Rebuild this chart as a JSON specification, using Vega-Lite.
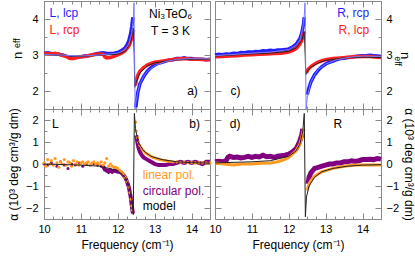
{
"$schema":"https://vega.github.io/schema/vega-lite/v6.json",
"padding":{"left":6,"right":2,"top":0,"bottom":3},
"config":{"font":"Liberation Sans","view":{"stroke":"#888","strokeWidth":1},
"axis":{"domain":false,"grid":false,"tickColor":"#888","labelColor":"#000","labelFontSize":11,"labelFont":"Liberation Sans","titleFont":"Liberation Sans","titleFontWeight":"normal","titleFontSize":11,"titleColor":"#000","minExtent":0,"labelOverlap":false,"labelBound":false,"labelFlush":false},
"text":{"font":"Liberation Sans","fontSize":12,"baseline":"middle"}},
"datasets":{
"tl":[
{"f":10,"v":3.05,"s":"lcp1"},{"f":10.1,"v":3.06,"s":"lcp1"},{"f":10.2,"v":3.04,"s":"lcp1"},{"f":10.3,"v":3.03,"s":"lcp1"},{"f":10.4,"v":3.02,"s":"lcp1"},{"f":10.5,"v":3.0,"s":"lcp1"},{"f":10.6,"v":2.97,"s":"lcp1"},{"f":10.7,"v":2.93,"s":"lcp1"},{"f":10.8,"v":2.92,"s":"lcp1"},{"f":10.9,"v":2.94,"s":"lcp1"},{"f":11,"v":2.95,"s":"lcp1"},{"f":11.1,"v":2.97,"s":"lcp1"},{"f":11.2,"v":2.98,"s":"lcp1"},{"f":11.3,"v":3.0,"s":"lcp1"},{"f":11.4,"v":3.03,"s":"lcp1"},{"f":11.5,"v":3.05,"s":"lcp1"},{"f":11.6,"v":3.06,"s":"lcp1"},{"f":11.7,"v":3.04,"s":"lcp1"},{"f":11.8,"v":3.04,"s":"lcp1"},{"f":11.9,"v":3.05,"s":"lcp1"},{"f":12,"v":3.07,"s":"lcp1"},{"f":12.1,"v":3.12,"s":"lcp1"},{"f":12.2,"v":3.2,"s":"lcp1"},{"f":12.25,"v":3.28,"s":"lcp1"},{"f":12.3,"v":3.4,"s":"lcp1"},{"f":12.35,"v":3.6,"s":"lcp1"},{"f":12.38,"v":3.8,"s":"lcp1"},{"f":12.41,"v":4.05,"s":"lcp1"},
{"f":12.49,"v":1.55,"s":"lcp2"},{"f":12.52,"v":1.8,"s":"lcp2"},{"f":12.55,"v":2.0,"s":"lcp2"},{"f":12.6,"v":2.2,"s":"lcp2"},{"f":12.7,"v":2.4,"s":"lcp2"},{"f":12.8,"v":2.55,"s":"lcp2"},{"f":12.9,"v":2.65,"s":"lcp2"},{"f":13,"v":2.72,"s":"lcp2"},{"f":13.1,"v":2.77,"s":"lcp2"},{"f":13.2,"v":2.8,"s":"lcp2"},{"f":13.3,"v":2.83,"s":"lcp2"},{"f":13.4,"v":2.86,"s":"lcp2"},{"f":13.5,"v":2.87,"s":"lcp2"},{"f":13.6,"v":2.9,"s":"lcp2"},{"f":13.7,"v":2.9,"s":"lcp2"},{"f":13.8,"v":2.92,"s":"lcp2"},{"f":13.9,"v":2.9,"s":"lcp2"},{"f":14,"v":2.9,"s":"lcp2"},{"f":14.1,"v":2.88,"s":"lcp2"},{"f":14.2,"v":2.88,"s":"lcp2"},{"f":14.3,"v":2.88,"s":"lcp2"},{"f":14.4,"v":2.87,"s":"lcp2"},{"f":14.5,"v":2.88,"s":"lcp2"},
{"f":10,"v":3.05,"s":"rcp1"},{"f":10.1,"v":3.04,"s":"rcp1"},{"f":10.2,"v":3.03,"s":"rcp1"},{"f":10.3,"v":3.05,"s":"rcp1"},{"f":10.4,"v":3.02,"s":"rcp1"},{"f":10.5,"v":2.99,"s":"rcp1"},{"f":10.6,"v":2.96,"s":"rcp1"},{"f":10.7,"v":2.9,"s":"rcp1"},{"f":10.8,"v":2.9,"s":"rcp1"},{"f":10.9,"v":2.93,"s":"rcp1"},{"f":11,"v":2.95,"s":"rcp1"},{"f":11.1,"v":2.96,"s":"rcp1"},{"f":11.2,"v":2.98,"s":"rcp1"},{"f":11.3,"v":3.0,"s":"rcp1"},{"f":11.4,"v":3.02,"s":"rcp1"},{"f":11.5,"v":3.03,"s":"rcp1"},{"f":11.6,"v":3.02,"s":"rcp1"},{"f":11.65,"v":2.95,"s":"rcp1"},{"f":11.7,"v":2.92,"s":"rcp1"},{"f":11.8,"v":2.93,"s":"rcp1"},{"f":11.9,"v":2.96,"s":"rcp1"},{"f":12,"v":3.0,"s":"rcp1"},{"f":12.1,"v":3.05,"s":"rcp1"},{"f":12.2,"v":3.12,"s":"rcp1"},{"f":12.3,"v":3.25,"s":"rcp1"},{"f":12.35,"v":3.38,"s":"rcp1"},{"f":12.4,"v":3.55,"s":"rcp1"},{"f":12.43,"v":3.7,"s":"rcp1"},
{"f":12.48,"v":2.15,"s":"rcp2"},{"f":12.5,"v":2.3,"s":"rcp2"},{"f":12.55,"v":2.45,"s":"rcp2"},{"f":12.6,"v":2.55,"s":"rcp2"},{"f":12.7,"v":2.65,"s":"rcp2"},{"f":12.8,"v":2.72,"s":"rcp2"},{"f":12.9,"v":2.77,"s":"rcp2"},{"f":13,"v":2.8,"s":"rcp2"},{"f":13.2,"v":2.83,"s":"rcp2"},{"f":13.4,"v":2.86,"s":"rcp2"},{"f":13.6,"v":2.89,"s":"rcp2"},{"f":13.8,"v":2.9,"s":"rcp2"},{"f":14,"v":2.88,"s":"rcp2"},{"f":14.2,"v":2.88,"s":"rcp2"},{"f":14.4,"v":2.87,"s":"rcp2"},{"f":14.5,"v":2.87,"s":"rcp2"},
{"f":10,"v":3.02,"s":"mb"},{"f":11,"v":2.97,"s":"mb"},{"f":11.5,"v":3.0,"s":"mb"},{"f":12,"v":3.05,"s":"mb"},{"f":12.2,"v":3.15,"s":"mb"},{"f":12.3,"v":3.3,"s":"mb"},{"f":12.38,"v":3.6,"s":"mb"},{"f":12.42,"v":4.0,"s":"mb"},{"f":12.44,"v":4.45,"s":"mb"},{"f":12.46,"v":2.5,"s":"mb"},{"f":12.47,"v":1.5,"s":"mb"},{"f":12.5,"v":1.75,"s":"mb"},{"f":12.55,"v":2.0,"s":"mb"},{"f":12.6,"v":2.2,"s":"mb"},{"f":12.7,"v":2.4,"s":"mb"},{"f":12.8,"v":2.55,"s":"mb"},{"f":13,"v":2.7,"s":"mb"},{"f":13.3,"v":2.82,"s":"mb"},{"f":13.6,"v":2.88,"s":"mb"},{"f":14,"v":2.9,"s":"mb"},{"f":14.5,"v":2.89,"s":"mb"},
{"f":10,"v":3.02,"s":"mk"},{"f":11,"v":2.96,"s":"mk"},{"f":11.5,"v":3.0,"s":"mk"},{"f":12,"v":3.02,"s":"mk"},{"f":12.2,"v":3.1,"s":"mk"},{"f":12.35,"v":3.35,"s":"mk"},{"f":12.42,"v":3.75,"s":"mk"},{"f":12.445,"v":3.0,"s":"mk"},{"f":12.46,"v":2.1,"s":"mk"},{"f":12.5,"v":2.25,"s":"mk"},{"f":12.6,"v":2.5,"s":"mk"},{"f":12.8,"v":2.7,"s":"mk"},{"f":13,"v":2.78,"s":"mk"},{"f":13.5,"v":2.86,"s":"mk"},{"f":14,"v":2.88,"s":"mk"},{"f":14.5,"v":2.88,"s":"mk"}
],
"tr":[
{"f":10,"v":3.0,"s":"rcp1"},{"f":10.1,"v":3.02,"s":"rcp1"},{"f":10.2,"v":3.01,"s":"rcp1"},{"f":10.3,"v":3.03,"s":"rcp1"},{"f":10.4,"v":3.02,"s":"rcp1"},{"f":10.5,"v":3.05,"s":"rcp1"},{"f":10.6,"v":3.04,"s":"rcp1"},{"f":10.7,"v":3.07,"s":"rcp1"},{"f":10.8,"v":3.06,"s":"rcp1"},{"f":10.9,"v":3.08,"s":"rcp1"},{"f":11,"v":3.08,"s":"rcp1"},{"f":11.1,"v":3.1,"s":"rcp1"},{"f":11.2,"v":3.09,"s":"rcp1"},{"f":11.3,"v":3.12,"s":"rcp1"},{"f":11.4,"v":3.11,"s":"rcp1"},{"f":11.5,"v":3.13,"s":"rcp1"},{"f":11.6,"v":3.12,"s":"rcp1"},{"f":11.7,"v":3.14,"s":"rcp1"},{"f":11.8,"v":3.14,"s":"rcp1"},{"f":11.9,"v":3.15,"s":"rcp1"},{"f":12,"v":3.17,"s":"rcp1"},{"f":12.1,"v":3.22,"s":"rcp1"},{"f":12.2,"v":3.3,"s":"rcp1"},{"f":12.3,"v":3.45,"s":"rcp1"},{"f":12.35,"v":3.6,"s":"rcp1"},{"f":12.4,"v":3.85,"s":"rcp1"},{"f":12.42,"v":4.05,"s":"rcp1"},
{"f":12.5,"v":1.9,"s":"rcp2"},{"f":12.55,"v":2.1,"s":"rcp2"},{"f":12.6,"v":2.25,"s":"rcp2"},{"f":12.7,"v":2.45,"s":"rcp2"},{"f":12.8,"v":2.58,"s":"rcp2"},{"f":12.9,"v":2.68,"s":"rcp2"},{"f":13,"v":2.75,"s":"rcp2"},{"f":13.1,"v":2.8,"s":"rcp2"},{"f":13.2,"v":2.83,"s":"rcp2"},{"f":13.3,"v":2.87,"s":"rcp2"},{"f":13.4,"v":2.9,"s":"rcp2"},{"f":13.5,"v":2.91,"s":"rcp2"},{"f":13.6,"v":2.93,"s":"rcp2"},{"f":13.7,"v":2.94,"s":"rcp2"},{"f":13.8,"v":2.96,"s":"rcp2"},{"f":13.9,"v":2.97,"s":"rcp2"},{"f":14,"v":2.98,"s":"rcp2"},{"f":14.1,"v":2.98,"s":"rcp2"},{"f":14.2,"v":2.99,"s":"rcp2"},{"f":14.3,"v":2.98,"s":"rcp2"},{"f":14.4,"v":2.97,"s":"rcp2"},{"f":14.5,"v":2.96,"s":"rcp2"},
{"f":10,"v":2.95,"s":"lcp1"},{"f":10.2,"v":2.96,"s":"lcp1"},{"f":10.4,"v":2.97,"s":"lcp1"},{"f":10.6,"v":2.98,"s":"lcp1"},{"f":10.8,"v":3.0,"s":"lcp1"},{"f":11,"v":3.01,"s":"lcp1"},{"f":11.2,"v":3.02,"s":"lcp1"},{"f":11.4,"v":3.03,"s":"lcp1"},{"f":11.6,"v":3.04,"s":"lcp1"},{"f":11.8,"v":3.05,"s":"lcp1"},{"f":12,"v":3.08,"s":"lcp1"},{"f":12.1,"v":3.12,"s":"lcp1"},{"f":12.2,"v":3.18,"s":"lcp1"},{"f":12.3,"v":3.3,"s":"lcp1"},{"f":12.35,"v":3.4,"s":"lcp1"},{"f":12.4,"v":3.55,"s":"lcp1"},{"f":12.43,"v":3.65,"s":"lcp1"},
{"f":12.48,"v":2.5,"s":"lcp2"},{"f":12.52,"v":2.6,"s":"lcp2"},{"f":12.6,"v":2.68,"s":"lcp2"},{"f":12.7,"v":2.75,"s":"lcp2"},{"f":12.8,"v":2.8,"s":"lcp2"},{"f":12.9,"v":2.84,"s":"lcp2"},{"f":13,"v":2.87,"s":"lcp2"},{"f":13.2,"v":2.9,"s":"lcp2"},{"f":13.4,"v":2.92,"s":"lcp2"},{"f":13.6,"v":2.94,"s":"lcp2"},{"f":13.8,"v":2.95,"s":"lcp2"},{"f":14,"v":2.96,"s":"lcp2"},{"f":14.2,"v":2.96,"s":"lcp2"},{"f":14.4,"v":2.94,"s":"lcp2"},{"f":14.5,"v":2.93,"s":"lcp2"},
{"f":10,"v":2.98,"s":"mb"},{"f":11,"v":3.05,"s":"mb"},{"f":11.5,"v":3.08,"s":"mb"},{"f":12,"v":3.15,"s":"mb"},{"f":12.2,"v":3.27,"s":"mb"},{"f":12.3,"v":3.42,"s":"mb"},{"f":12.38,"v":3.75,"s":"mb"},{"f":12.42,"v":4.1,"s":"mb"},{"f":12.44,"v":4.45,"s":"mb"},{"f":12.46,"v":2.5,"s":"mb"},{"f":12.47,"v":1.5,"s":"mb"},{"f":12.5,"v":1.8,"s":"mb"},{"f":12.55,"v":2.05,"s":"mb"},{"f":12.6,"v":2.25,"s":"mb"},{"f":12.7,"v":2.45,"s":"mb"},{"f":12.8,"v":2.6,"s":"mb"},{"f":13,"v":2.75,"s":"mb"},{"f":13.3,"v":2.87,"s":"mb"},{"f":13.6,"v":2.93,"s":"mb"},{"f":14,"v":2.97,"s":"mb"},{"f":14.5,"v":2.96,"s":"mb"},
{"f":10,"v":2.97,"s":"mk"},{"f":11,"v":3.03,"s":"mk"},{"f":11.5,"v":3.05,"s":"mk"},{"f":12,"v":3.1,"s":"mk"},{"f":12.2,"v":3.2,"s":"mk"},{"f":12.35,"v":3.4,"s":"mk"},{"f":12.42,"v":3.65,"s":"mk"},{"f":12.445,"v":3.0,"s":"mk"},{"f":12.46,"v":2.45,"s":"mk"},{"f":12.5,"v":2.55,"s":"mk"},{"f":12.6,"v":2.66,"s":"mk"},{"f":12.8,"v":2.78,"s":"mk"},{"f":13,"v":2.85,"s":"mk"},{"f":13.5,"v":2.92,"s":"mk"},{"f":14,"v":2.94,"s":"mk"},{"f":14.5,"v":2.93,"s":"mk"}
],
"bl":[
{"f":10.0,"v":0.0,"s":"ps"},{"f":10.1,"v":-0.05,"s":"ps"},{"f":10.2,"v":0.05,"s":"ps"},{"f":10.35,"v":-0.1,"s":"ps"},{"f":10.45,"v":0.1,"s":"ps"},{"f":10.55,"v":-0.05,"s":"ps"},{"f":10.65,"v":-0.2,"s":"ps"},{"f":10.75,"v":0.0,"s":"ps"},{"f":10.85,"v":-0.05,"s":"ps"},{"f":10.95,"v":0.05,"s":"ps"},{"f":11.05,"v":-0.1,"s":"ps"},{"f":11.15,"v":0.0,"s":"ps"},{"f":11.25,"v":-0.05,"s":"ps"},{"f":11.35,"v":0.0,"s":"ps"},{"f":11.45,"v":-0.05,"s":"ps"},{"f":11.55,"v":-0.1,"s":"ps"},
{"f":11.6,"v":-0.1,"s":"pl1"},{"f":11.65,"v":-0.25,"s":"pl1"},{"f":11.7,"v":-0.3,"s":"pl1"},{"f":11.75,"v":-0.35,"s":"pl1"},{"f":11.8,"v":-0.28,"s":"pl1"},{"f":11.85,"v":-0.35,"s":"pl1"},{"f":11.9,"v":-0.3,"s":"pl1"},{"f":11.95,"v":-0.32,"s":"pl1"},{"f":12.0,"v":-0.35,"s":"pl1"},{"f":12.05,"v":-0.35,"s":"pl1"},{"f":12.1,"v":-0.4,"s":"pl1"},{"f":12.15,"v":-0.5,"s":"pl1"},{"f":12.2,"v":-0.6,"s":"pl1"},{"f":12.25,"v":-0.8,"s":"pl1"},{"f":12.3,"v":-1.05,"s":"pl1"},{"f":12.35,"v":-1.5,"s":"pl1"},{"f":12.38,"v":-1.9,"s":"pl1"},{"f":12.41,"v":-2.25,"s":"pl1"},
{"f":12.5,"v":1.3,"s":"pl2"},{"f":12.53,"v":1.0,"s":"pl2"},{"f":12.56,"v":0.75,"s":"pl2"},{"f":12.6,"v":0.55,"s":"pl2"},{"f":12.65,"v":0.4,"s":"pl2"},{"f":12.7,"v":0.3,"s":"pl2"},{"f":12.8,"v":0.2,"s":"pl2"},{"f":12.9,"v":0.1,"s":"pl2"},{"f":13.0,"v":0.0,"s":"pl2"},{"f":13.1,"v":-0.05,"s":"pl2"},{"f":13.2,"v":-0.05,"s":"pl2"},{"f":13.3,"v":-0.05,"s":"pl2"},{"f":13.4,"v":0.0,"s":"pl2"},{"f":13.5,"v":0.0,"s":"pl2"},{"f":13.6,"v":0.05,"s":"pl2"},{"f":13.7,"v":0.1,"s":"pl2"},{"f":13.8,"v":0.05,"s":"pl2"},{"f":13.9,"v":0.1,"s":"pl2"},{"f":14.0,"v":0.05,"s":"pl2"},{"f":14.1,"v":0.1,"s":"pl2"},{"f":14.2,"v":0.05,"s":"pl2"},{"f":14.3,"v":0.0,"s":"pl2"},{"f":14.4,"v":0.1,"s":"pl2"},{"f":14.5,"v":0.1,"s":"pl2"},
{"f":10.0,"v":0.05,"s":"o"},{"f":10.05,"v":-0.1,"s":"o"},{"f":10.1,"v":0.2,"s":"o"},{"f":10.15,"v":0.0,"s":"o"},{"f":10.2,"v":0.15,"s":"o"},{"f":10.25,"v":-0.05,"s":"o"},{"f":10.3,"v":0.25,"s":"o"},{"f":10.35,"v":0.05,"s":"o"},{"f":10.4,"v":-0.15,"s":"o"},{"f":10.45,"v":0.1,"s":"o"},{"f":10.5,"v":0.0,"s":"o"},{"f":10.55,"v":0.2,"s":"o"},{"f":10.6,"v":-0.05,"s":"o"},{"f":10.65,"v":0.1,"s":"o"},{"f":10.7,"v":0.05,"s":"o"},{"f":10.75,"v":-0.1,"s":"o"},{"f":10.8,"v":0.15,"s":"o"},{"f":10.85,"v":0.0,"s":"o"},{"f":10.9,"v":0.1,"s":"o"},{"f":10.95,"v":-0.05,"s":"o"},{"f":11.0,"v":0.05,"s":"o"},{"f":11.05,"v":0.1,"s":"o"},{"f":11.1,"v":0.0,"s":"o"},{"f":11.15,"v":0.05,"s":"o"},{"f":11.2,"v":0.1,"s":"o"},{"f":11.25,"v":-0.05,"s":"o"},{"f":11.3,"v":0.05,"s":"o"},{"f":11.35,"v":0.1,"s":"o"},{"f":11.4,"v":0.0,"s":"o"},{"f":11.45,"v":0.05,"s":"o"},{"f":11.5,"v":0.0,"s":"o"},{"f":11.55,"v":0.1,"s":"o"},{"f":11.6,"v":-0.05,"s":"o"},{"f":11.65,"v":0.05,"s":"o"},{"f":11.7,"v":0.25,"s":"o"},{"f":11.75,"v":-0.1,"s":"o"},{"f":11.8,"v":0.0,"s":"o"},{"f":11.85,"v":-0.1,"s":"o"},{"f":11.9,"v":-0.15,"s":"o"},{"f":11.95,"v":-0.15,"s":"o"},{"f":12.0,"v":-0.2,"s":"o"},{"f":12.05,"v":-0.3,"s":"o"},{"f":12.1,"v":-0.35,"s":"o"},{"f":12.15,"v":-0.45,"s":"o"},{"f":12.2,"v":-0.6,"s":"o"},{"f":12.25,"v":-0.8,"s":"o"},{"f":12.3,"v":-1.05,"s":"o"},{"f":12.33,"v":-1.3,"s":"o"},{"f":12.36,"v":-1.6,"s":"o"},{"f":12.38,"v":-1.9,"s":"o"},{"f":12.4,"v":-2.1,"s":"o"},
{"f":12.48,"v":1.9,"s":"o"},{"f":12.5,"v":1.5,"s":"o"},{"f":12.53,"v":1.2,"s":"o"},{"f":12.56,"v":1.0,"s":"o"},{"f":12.6,"v":0.85,"s":"o"},{"f":12.65,"v":0.7,"s":"o"},{"f":12.7,"v":0.6,"s":"o"},{"f":12.75,"v":0.5,"s":"o"},{"f":12.8,"v":0.45,"s":"o"},{"f":12.85,"v":0.4,"s":"o"},{"f":12.9,"v":0.35,"s":"o"},{"f":12.95,"v":0.3,"s":"o"},{"f":13.0,"v":0.28,"s":"o"},{"f":13.05,"v":0.25,"s":"o"},{"f":13.1,"v":0.22,"s":"o"},{"f":13.15,"v":0.2,"s":"o"},{"f":13.2,"v":0.18,"s":"o"},{"f":13.25,"v":0.16,"s":"o"},{"f":13.3,"v":0.15,"s":"o"},{"f":13.35,"v":0.13,"s":"o"},{"f":13.4,"v":0.12,"s":"o"},{"f":13.45,"v":0.11,"s":"o"},{"f":13.5,"v":0.1,"s":"o"},{"f":13.6,"v":0.1,"s":"o"},{"f":13.7,"v":0.08,"s":"o"},{"f":13.8,"v":0.08,"s":"o"},{"f":13.9,"v":0.07,"s":"o"},{"f":14.0,"v":0.06,"s":"o"},{"f":14.1,"v":0.05,"s":"o"},{"f":14.2,"v":0.06,"s":"o"},{"f":14.3,"v":0.05,"s":"o"},{"f":14.4,"v":0.05,"s":"o"},{"f":14.5,"v":0.05,"s":"o"},
{"f":10,"v":0.0,"s":"m"},{"f":11,"v":-0.05,"s":"m"},{"f":11.5,"v":-0.1,"s":"m"},{"f":12,"v":-0.3,"s":"m"},{"f":12.2,"v":-0.6,"s":"m"},{"f":12.3,"v":-1.0,"s":"m"},{"f":12.38,"v":-1.6,"s":"m"},{"f":12.42,"v":-2.3,"s":"m"},{"f":12.45,"v":2.3,"s":"m"},{"f":12.48,"v":1.6,"s":"m"},{"f":12.55,"v":1.0,"s":"m"},{"f":12.7,"v":0.6,"s":"m"},{"f":12.9,"v":0.35,"s":"m"},{"f":13.2,"v":0.2,"s":"m"},{"f":13.6,"v":0.1,"s":"m"},{"f":14,"v":0.06,"s":"m"},{"f":14.5,"v":0.04,"s":"m"}
],
"br":[
{"f":10.0,"v":0.1,"s":"pl1"},{"f":10.1,"v":0.12,"s":"pl1"},{"f":10.2,"v":0.1,"s":"pl1"},{"f":10.3,"v":0.15,"s":"pl1"},{"f":10.35,"v":0.3,"s":"pl1"},{"f":10.4,"v":0.35,"s":"pl1"},{"f":10.5,"v":0.3,"s":"pl1"},{"f":10.6,"v":0.32,"s":"pl1"},{"f":10.7,"v":0.28,"s":"pl1"},{"f":10.8,"v":0.3,"s":"pl1"},{"f":10.9,"v":0.35,"s":"pl1"},{"f":11.0,"v":0.3,"s":"pl1"},{"f":11.1,"v":0.35,"s":"pl1"},{"f":11.2,"v":0.32,"s":"pl1"},{"f":11.3,"v":0.4,"s":"pl1"},{"f":11.4,"v":0.33,"s":"pl1"},{"f":11.5,"v":0.35,"s":"pl1"},{"f":11.6,"v":0.3,"s":"pl1"},{"f":11.7,"v":0.35,"s":"pl1"},{"f":11.8,"v":0.38,"s":"pl1"},{"f":11.9,"v":0.4,"s":"pl1"},{"f":12.0,"v":0.45,"s":"pl1"},{"f":12.1,"v":0.55,"s":"pl1"},{"f":12.2,"v":0.7,"s":"pl1"},{"f":12.25,"v":0.85,"s":"pl1"},{"f":12.3,"v":1.05,"s":"pl1"},{"f":12.35,"v":1.3,"s":"pl1"},{"f":12.38,"v":1.6,"s":"pl1"},
{"f":12.52,"v":-0.9,"s":"pl2"},{"f":12.55,"v":-0.6,"s":"pl2"},{"f":12.6,"v":-0.4,"s":"pl2"},{"f":12.65,"v":-0.3,"s":"pl2"},{"f":12.7,"v":-0.2,"s":"pl2"},{"f":12.8,"v":-0.15,"s":"pl2"},{"f":12.9,"v":-0.1,"s":"pl2"},{"f":13.0,"v":-0.05,"s":"pl2"},{"f":13.1,"v":0.0,"s":"pl2"},{"f":13.2,"v":0.0,"s":"pl2"},{"f":13.3,"v":0.05,"s":"pl2"},{"f":13.4,"v":0.05,"s":"pl2"},{"f":13.5,"v":0.1,"s":"pl2"},{"f":13.6,"v":0.1,"s":"pl2"},{"f":13.7,"v":0.15,"s":"pl2"},{"f":13.8,"v":0.12,"s":"pl2"},{"f":13.9,"v":0.15,"s":"pl2"},{"f":14.0,"v":0.2,"s":"pl2"},{"f":14.1,"v":0.2,"s":"pl2"},{"f":14.2,"v":0.22,"s":"pl2"},{"f":14.3,"v":0.2,"s":"pl2"},{"f":14.4,"v":0.25,"s":"pl2"},{"f":14.5,"v":0.22,"s":"pl2"},
{"f":10.0,"v":0.05,"s":"ol1"},{"f":10.25,"v":0.0,"s":"ol1"},{"f":10.5,"v":-0.05,"s":"ol1"},{"f":10.75,"v":0.0,"s":"ol1"},{"f":11.0,"v":0.0,"s":"ol1"},{"f":11.25,"v":0.03,"s":"ol1"},{"f":11.5,"v":0.05,"s":"ol1"},{"f":11.7,"v":0.1,"s":"ol1"},{"f":11.85,"v":0.18,"s":"ol1"},{"f":12.0,"v":0.3,"s":"ol1"},{"f":12.1,"v":0.45,"s":"ol1"},{"f":12.2,"v":0.6,"s":"ol1"},{"f":12.3,"v":0.9,"s":"ol1"},{"f":12.35,"v":1.2,"s":"ol1"},{"f":12.4,"v":1.6,"s":"ol1"},
{"f":12.5,"v":-1.2,"s":"ol2"},{"f":12.55,"v":-0.9,"s":"ol2"},{"f":12.6,"v":-0.75,"s":"ol2"},{"f":12.7,"v":-0.55,"s":"ol2"},{"f":12.8,"v":-0.45,"s":"ol2"},{"f":12.9,"v":-0.35,"s":"ol2"},{"f":13.0,"v":-0.3,"s":"ol2"},{"f":13.2,"v":-0.2,"s":"ol2"},{"f":13.5,"v":-0.1,"s":"ol2"},{"f":13.8,"v":-0.05,"s":"ol2"},{"f":14.0,"v":-0.05,"s":"ol2"},{"f":14.5,"v":-0.05,"s":"ol2"},
{"f":10,"v":0.05,"s":"m"},{"f":11,"v":0.1,"s":"m"},{"f":11.5,"v":0.15,"s":"m"},{"f":12,"v":0.35,"s":"m"},{"f":12.2,"v":0.6,"s":"m"},{"f":12.3,"v":0.9,"s":"m"},{"f":12.38,"v":1.5,"s":"m"},{"f":12.42,"v":2.3,"s":"m"},{"f":12.45,"v":-2.4,"s":"m"},{"f":12.48,"v":-1.5,"s":"m"},{"f":12.55,"v":-1.0,"s":"m"},{"f":12.7,"v":-0.6,"s":"m"},{"f":12.9,"v":-0.35,"s":"m"},{"f":13.2,"v":-0.2,"s":"m"},{"f":13.6,"v":-0.1,"s":"m"},{"f":14,"v":-0.05,"s":"m"},{"f":14.5,"v":-0.03,"s":"m"}
]
},
"columns":2,
"spacing":{"row":0,"column":5},
"bounds":"flush",
"concat":[
{"width":166,"height":108,
"resolve":{"axis":{"x":"independent","y":"independent"}},
"layer":[
{"data":{"name":"tl"},"transform":[{"filter":"datum.s==='lcp1' || datum.s==='lcp2'"}],"mark":{"type":"line","color":"#1f1fff","strokeWidth":3.5},
"encoding":{"detail":{"field":"s"},"x":{"field":"f","type":"quantitative","scale":{"domain":[10,14.5],"nice":false},"axis":{"orient":"bottom","values":[10,10.25,10.5,10.75,11,11.25,11.5,11.75,12,12.25,12.5,12.75,13,13.25,13.5,13.75,14,14.25,14.5],"labels":false,"tickSize":{"condition":{"test":"datum.value % 1 === 0","value":-6},"value":-3},"title":null}},
"y":{"field":"v","type":"quantitative","scale":{"domain":[1.5,4.5],"nice":false},"axis":{"orient":"left","values":[2,3,4],"ticks":false,"labelPadding":6,"title":"n","titleFontSize":13,"titlePadding":7}}}},
{"data":{"name":"tl"},"transform":[{"filter":"datum.s==='rcp1' || datum.s==='rcp2'"}],"mark":{"type":"line","color":"#ff2020","strokeWidth":3.5},
"encoding":{"detail":{"field":"s"},"x":{"field":"f","type":"quantitative","scale":{"domain":[10,14.5],"nice":false},"axis":null},"y":{"field":"v","type":"quantitative","scale":{"domain":[1.5,4.5],"nice":false},"axis":{"orient":"left","values":[1.5,2,2.5,3,3.5,4,4.5],"labels":false,"tickSize":{"condition":{"test":"datum.value % 1 === 0","value":-6},"value":-3},"title":null}}}},
{"data":{"name":"tl"},"transform":[{"filter":"datum.s==='mk'"}],"mark":{"type":"line","color":"#222","strokeWidth":1},
"encoding":{"x":{"field":"f","type":"quantitative","scale":{"domain":[10,14.5],"nice":false},"axis":{"orient":"top","values":[10,10.25,10.5,10.75,11,11.25,11.5,11.75,12,12.25,12.5,12.75,13,13.25,13.5,13.75,14,14.25,14.5],"labels":false,"tickSize":{"condition":{"test":"datum.value % 1 === 0","value":-6},"value":-3},"title":null}},
"y":{"field":"v","type":"quantitative","scale":{"domain":[1.5,4.5],"nice":false},"axis":{"orient":"right","values":[1.5,2,2.5,3,3.5,4,4.5],"labels":false,"tickSize":{"condition":{"test":"datum.value % 1 === 0","value":-6},"value":-3},"title":null}}}},
{"data":{"name":"tl"},"transform":[{"filter":"datum.s==='mb'"}],"mark":{"type":"line","color":"#7a7aff","strokeWidth":1},
"encoding":{"x":{"field":"f","type":"quantitative","scale":{"domain":[10,14.5],"nice":false},"axis":null},"y":{"field":"v","type":"quantitative","scale":{"domain":[1.5,4.5],"nice":false},"axis":null}}},
{"data":{"values":[{"t":"L, lcp","f":10.15,"v":4.17}]},"mark":{"type":"text","align":"left","color":"#1f1fff"},
"encoding":{"text":{"field":"t"},"x":{"field":"f","type":"quantitative","scale":{"domain":[10,14.5],"nice":false},"axis":null},"y":{"field":"v","type":"quantitative","scale":{"domain":[1.5,4.5],"nice":false},"axis":null}}},
{"data":{"values":[{"t":"L, rcp","f":10.15,"v":3.7}]},"mark":{"type":"text","align":"left","color":"#ff2020"},
"encoding":{"text":{"field":"t"},"x":{"field":"f","type":"quantitative","scale":{"domain":[10,14.5],"nice":false},"axis":null},"y":{"field":"v","type":"quantitative","scale":{"domain":[1.5,4.5],"nice":false},"axis":null}}},
{"data":{"values":[{"t":"Ni₃TeO₆","f":13.43,"v":4.14},{"t":"T = 3 K","f":13.43,"v":3.67}]},"mark":{"type":"text","align":"center","color":"#000"},
"encoding":{"text":{"field":"t"},"x":{"field":"f","type":"quantitative","scale":{"domain":[10,14.5],"nice":false},"axis":null},"y":{"field":"v","type":"quantitative","scale":{"domain":[1.5,4.5],"nice":false},"axis":null}}},
{"data":{"values":[{"t":"a)","f":14.17,"v":2.0}]},"mark":{"type":"text","align":"right","color":"#000"},
"encoding":{"text":{"field":"t"},"x":{"field":"f","type":"quantitative","scale":{"domain":[10,14.5],"nice":false},"axis":null},"y":{"field":"v","type":"quantitative","scale":{"domain":[1.5,4.5],"nice":false},"axis":null}}},
{"data":{"values":[{"t":"eff","f":9.28,"v":3.33}]},"mark":{"type":"text","align":"center","angle":270,"fontSize":9,"color":"#000"},
"encoding":{"text":{"field":"t"},"x":{"field":"f","type":"quantitative","scale":{"domain":[10,14.5],"nice":false},"axis":null},"y":{"field":"v","type":"quantitative","scale":{"domain":[1.5,4.5],"nice":false},"axis":null}}}
]},
{"width":166,"height":108,
"resolve":{"axis":{"x":"independent","y":"independent"}},
"layer":[
{"data":{"name":"tr"},"transform":[{"filter":"datum.s==='rcp1' || datum.s==='rcp2'"}],"mark":{"type":"line","color":"#1f1fff","strokeWidth":3.5},
"encoding":{"detail":{"field":"s"},"x":{"field":"f","type":"quantitative","scale":{"domain":[10,14.5],"nice":false},"axis":{"orient":"bottom","values":[10,10.25,10.5,10.75,11,11.25,11.5,11.75,12,12.25,12.5,12.75,13,13.25,13.5,13.75,14,14.25,14.5],"labels":false,"tickSize":{"condition":{"test":"datum.value % 1 === 0","value":-6},"value":-3},"title":null}},
"y":{"field":"v","type":"quantitative","scale":{"domain":[1.5,4.5],"nice":false},"axis":{"orient":"right","values":[2,3,4],"ticks":false,"labelPadding":5,"title":"n","titleFontSize":13,"titlePadding":5}}}},
{"data":{"name":"tr"},"transform":[{"filter":"datum.s==='lcp1' || datum.s==='lcp2'"}],"mark":{"type":"line","color":"#ff2020","strokeWidth":3.5},
"encoding":{"detail":{"field":"s"},"x":{"field":"f","type":"quantitative","scale":{"domain":[10,14.5],"nice":false},"axis":null},"y":{"field":"v","type":"quantitative","scale":{"domain":[1.5,4.5],"nice":false},"axis":{"orient":"right","values":[1.5,2,2.5,3,3.5,4,4.5],"labels":false,"tickSize":{"condition":{"test":"datum.value % 1 === 0","value":-6},"value":-3},"title":null}}}},
{"data":{"name":"tr"},"transform":[{"filter":"datum.s==='mk'"}],"mark":{"type":"line","color":"#222","strokeWidth":1},
"encoding":{"x":{"field":"f","type":"quantitative","scale":{"domain":[10,14.5],"nice":false},"axis":{"orient":"top","values":[10,10.25,10.5,10.75,11,11.25,11.5,11.75,12,12.25,12.5,12.75,13,13.25,13.5,13.75,14,14.25,14.5],"labels":false,"tickSize":{"condition":{"test":"datum.value % 1 === 0","value":-6},"value":-3},"title":null}},
"y":{"field":"v","type":"quantitative","scale":{"domain":[1.5,4.5],"nice":false},"axis":{"orient":"left","values":[1.5,2,2.5,3,3.5,4,4.5],"labels":false,"tickSize":{"condition":{"test":"datum.value % 1 === 0","value":-6},"value":-3},"title":null}}}},
{"data":{"name":"tr"},"transform":[{"filter":"datum.s==='mb'"}],"mark":{"type":"line","color":"#7a7aff","strokeWidth":1},
"encoding":{"x":{"field":"f","type":"quantitative","scale":{"domain":[10,14.5],"nice":false},"axis":null},"y":{"field":"v","type":"quantitative","scale":{"domain":[1.5,4.5],"nice":false},"axis":null}}},
{"data":{"values":[{"t":"R, rcp","f":14.18,"v":4.17}]},"mark":{"type":"text","align":"right","color":"#1f1fff"},
"encoding":{"text":{"field":"t"},"x":{"field":"f","type":"quantitative","scale":{"domain":[10,14.5],"nice":false},"axis":null},"y":{"field":"v","type":"quantitative","scale":{"domain":[1.5,4.5],"nice":false},"axis":null}}},
{"data":{"values":[{"t":"R, lcp","f":14.18,"v":3.7}]},"mark":{"type":"text","align":"right","color":"#ff2020"},
"encoding":{"text":{"field":"t"},"x":{"field":"f","type":"quantitative","scale":{"domain":[10,14.5],"nice":false},"axis":null},"y":{"field":"v","type":"quantitative","scale":{"domain":[1.5,4.5],"nice":false},"axis":null}}},
{"data":{"values":[{"t":"c)","f":10.42,"v":2.0}]},"mark":{"type":"text","align":"left","color":"#000"},
"encoding":{"text":{"field":"t"},"x":{"field":"f","type":"quantitative","scale":{"domain":[10,14.5],"nice":false},"axis":null},"y":{"field":"v","type":"quantitative","scale":{"domain":[1.5,4.5],"nice":false},"axis":null}}},
{"data":{"values":[{"t":"eff","f":14.96,"v":2.83}]},"mark":{"type":"text","align":"center","angle":90,"fontSize":9,"color":"#000"},
"encoding":{"text":{"field":"t"},"x":{"field":"f","type":"quantitative","scale":{"domain":[10,14.5],"nice":false},"axis":null},"y":{"field":"v","type":"quantitative","scale":{"domain":[1.5,4.5],"nice":false},"axis":null}}}
]},
{"width":166,"height":110,
"resolve":{"axis":{"x":"independent","y":"independent"}},
"layer":[
{"data":{"name":"bl"},"transform":[{"filter":"datum.s==='pl1' || datum.s==='pl2'"}],"mark":{"type":"line","color":"#800080","strokeWidth":4},
"encoding":{"detail":{"field":"s"},"x":{"field":"f","type":"quantitative","scale":{"domain":[10,14.5],"nice":false},"axis":{"orient":"bottom","values":[10,11,12,13,14],"ticks":false,"labelPadding":4,"title":"Frequency (cm⁻¹)","titleFontSize":12,"titlePadding":5}},
"y":{"field":"v","type":"quantitative","scale":{"domain":[-2.5,2.5],"nice":false},"axis":{"orient":"left","values":[-2,-1,0,1,2],"ticks":false,"labelPadding":6,"title":"α (10³ deg cm³/g dm)","titleFontSize":12,"titlePadding":5}}}},
{"data":{"name":"bl"},"transform":[{"filter":"datum.s==='ps'"}],"mark":{"type":"point","filled":true,"color":"#800080","size":9,"opacity":1},
"encoding":{"x":{"field":"f","type":"quantitative","scale":{"domain":[10,14.5],"nice":false},"axis":{"orient":"bottom","values":[10,10.25,10.5,10.75,11,11.25,11.5,11.75,12,12.25,12.5,12.75,13,13.25,13.5,13.75,14,14.25,14.5],"labels":false,"tickSize":{"condition":{"test":"datum.value % 1 === 0","value":-6},"value":-3},"title":null}},
"y":{"field":"v","type":"quantitative","scale":{"domain":[-2.5,2.5],"nice":false},"axis":{"orient":"left","values":[-2.5,-2,-1.5,-1,-0.5,0,0.5,1,1.5,2,2.5],"labels":false,"tickSize":{"condition":{"test":"datum.value % 1 === 0","value":-6},"value":-3},"title":null}}}},
{"data":{"name":"bl"},"transform":[{"filter":"datum.s==='o'"}],"mark":{"type":"point","filled":true,"color":"#ff9920","size":10,"opacity":1},
"encoding":{"x":{"field":"f","type":"quantitative","scale":{"domain":[10,14.5],"nice":false},"axis":null},"y":{"field":"v","type":"quantitative","scale":{"domain":[-2.5,2.5],"nice":false},"axis":null}}},
{"data":{"name":"bl"},"transform":[{"filter":"datum.s==='m'"}],"mark":{"type":"line","color":"#222","strokeWidth":1},
"encoding":{"x":{"field":"f","type":"quantitative","scale":{"domain":[10,14.5],"nice":false},"axis":{"orient":"top","values":[10,10.25,10.5,10.75,11,11.25,11.5,11.75,12,12.25,12.5,12.75,13,13.25,13.5,13.75,14,14.25,14.5],"labels":false,"tickSize":{"condition":{"test":"datum.value % 1 === 0","value":-6},"value":-3},"title":null}},
"y":{"field":"v","type":"quantitative","scale":{"domain":[-2.5,2.5],"nice":false},"axis":{"orient":"right","values":[-2.5,-2,-1.5,-1,-0.5,0,0.5,1,1.5,2,2.5],"labels":false,"tickSize":{"condition":{"test":"datum.value % 1 === 0","value":-6},"value":-3},"title":null}}}},
{"data":{"values":[{"t":"L","f":10.22,"v":1.8}]},"mark":{"type":"text","align":"left","color":"#000"},
"encoding":{"text":{"field":"t"},"x":{"field":"f","type":"quantitative","scale":{"domain":[10,14.5],"nice":false},"axis":null},"y":{"field":"v","type":"quantitative","scale":{"domain":[-2.5,2.5],"nice":false},"axis":null}}},
{"data":{"values":[{"t":"b)","f":14.23,"v":1.8}]},"mark":{"type":"text","align":"right","color":"#000"},
"encoding":{"text":{"field":"t"},"x":{"field":"f","type":"quantitative","scale":{"domain":[10,14.5],"nice":false},"axis":null},"y":{"field":"v","type":"quantitative","scale":{"domain":[-2.5,2.5],"nice":false},"axis":null}}},
{"data":{"values":[{"t":"linear pol.","f":12.68,"v":-0.5}]},"mark":{"type":"text","align":"left","color":"#ff9920"},
"encoding":{"text":{"field":"t"},"x":{"field":"f","type":"quantitative","scale":{"domain":[10,14.5],"nice":false},"axis":null},"y":{"field":"v","type":"quantitative","scale":{"domain":[-2.5,2.5],"nice":false},"axis":null}}},
{"data":{"values":[{"t":"circular pol.","f":12.68,"v":-1.23}]},"mark":{"type":"text","align":"left","color":"#800080"},
"encoding":{"text":{"field":"t"},"x":{"field":"f","type":"quantitative","scale":{"domain":[10,14.5],"nice":false},"axis":null},"y":{"field":"v","type":"quantitative","scale":{"domain":[-2.5,2.5],"nice":false},"axis":null}}},
{"data":{"values":[{"t":"model","f":12.68,"v":-1.9}]},"mark":{"type":"text","align":"left","color":"#000"},
"encoding":{"text":{"field":"t"},"x":{"field":"f","type":"quantitative","scale":{"domain":[10,14.5],"nice":false},"axis":null},"y":{"field":"v","type":"quantitative","scale":{"domain":[-2.5,2.5],"nice":false},"axis":null}}}
]},
{"width":166,"height":110,
"resolve":{"axis":{"x":"independent","y":"independent"}},
"layer":[
{"data":{"name":"br"},"transform":[{"filter":"datum.s==='pl1' || datum.s==='pl2'"}],"mark":{"type":"line","color":"#800080","strokeWidth":5},
"encoding":{"detail":{"field":"s"},"x":{"field":"f","type":"quantitative","scale":{"domain":[10,14.5],"nice":false},"axis":{"orient":"bottom","values":[10,11,12,13,14],"ticks":false,"labelPadding":4,"title":"Frequency (cm⁻¹)","titleFontSize":12,"titlePadding":5}},
"y":{"field":"v","type":"quantitative","scale":{"domain":[-2.5,2.5],"nice":false},"axis":{"orient":"right","values":[-2,-1,0,1,2],"ticks":false,"labelPadding":5,"title":"α (10³ deg cm³/g dm)","titleFontSize":12,"titlePadding":3}}}},
{"data":{"name":"br"},"transform":[{"filter":"datum.s==='ol1' || datum.s==='ol2'"}],"mark":{"type":"line","color":"#ff9920","strokeWidth":3},
"encoding":{"detail":{"field":"s"},"x":{"field":"f","type":"quantitative","scale":{"domain":[10,14.5],"nice":false},"axis":{"orient":"bottom","values":[10,10.25,10.5,10.75,11,11.25,11.5,11.75,12,12.25,12.5,12.75,13,13.25,13.5,13.75,14,14.25,14.5],"labels":false,"tickSize":{"condition":{"test":"datum.value % 1 === 0","value":-6},"value":-3},"title":null}},
"y":{"field":"v","type":"quantitative","scale":{"domain":[-2.5,2.5],"nice":false},"axis":{"orient":"right","values":[-2.5,-2,-1.5,-1,-0.5,0,0.5,1,1.5,2,2.5],"labels":false,"tickSize":{"condition":{"test":"datum.value % 1 === 0","value":-6},"value":-3},"title":null}}}},
{"data":{"name":"br"},"transform":[{"filter":"datum.s==='m'"}],"mark":{"type":"line","color":"#222","strokeWidth":1},
"encoding":{"x":{"field":"f","type":"quantitative","scale":{"domain":[10,14.5],"nice":false},"axis":{"orient":"top","values":[10,10.25,10.5,10.75,11,11.25,11.5,11.75,12,12.25,12.5,12.75,13,13.25,13.5,13.75,14,14.25,14.5],"labels":false,"tickSize":{"condition":{"test":"datum.value % 1 === 0","value":-6},"value":-3},"title":null}},
"y":{"field":"v","type":"quantitative","scale":{"domain":[-2.5,2.5],"nice":false},"axis":{"orient":"left","values":[-2.5,-2,-1.5,-1,-0.5,0,0.5,1,1.5,2,2.5],"labels":false,"tickSize":{"condition":{"test":"datum.value % 1 === 0","value":-6},"value":-3},"title":null}}}},
{"data":{"values":[{"t":"d)","f":10.4,"v":1.8}]},"mark":{"type":"text","align":"left","color":"#000"},
"encoding":{"text":{"field":"t"},"x":{"field":"f","type":"quantitative","scale":{"domain":[10,14.5],"nice":false},"axis":null},"y":{"field":"v","type":"quantitative","scale":{"domain":[-2.5,2.5],"nice":false},"axis":null}}},
{"data":{"values":[{"t":"R","f":13.33,"v":1.8}]},"mark":{"type":"text","align":"center","color":"#000"},
"encoding":{"text":{"field":"t"},"x":{"field":"f","type":"quantitative","scale":{"domain":[10,14.5],"nice":false},"axis":null},"y":{"field":"v","type":"quantitative","scale":{"domain":[-2.5,2.5],"nice":false},"axis":null}}}
]}
]
}
